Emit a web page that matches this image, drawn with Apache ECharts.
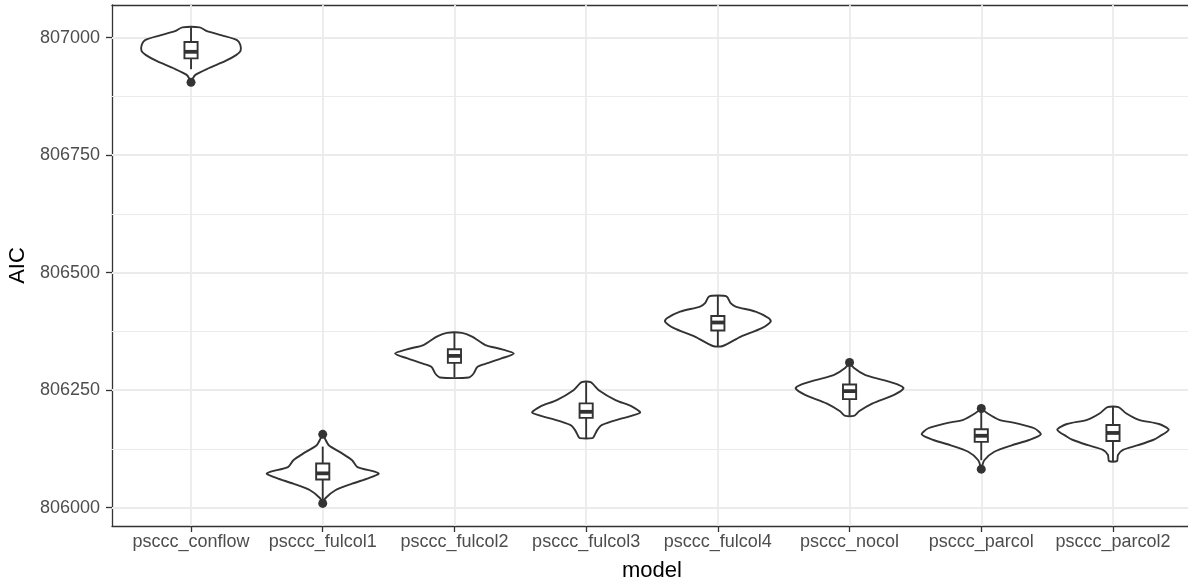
<!DOCTYPE html>
<html>
<head>
<meta charset="utf-8">
<script src="https://cdn.jsdelivr.net/npm/echarts@6/dist/echarts.min.js"></script>
<style>
  html, body { margin: 0; padding: 0; background: #fff; }
  #chart { width: 1188px; height: 584px; }
</style>
</head>
<body>
<div id="chart"></div>
<script>
// ---- data ----
const categories = ['psccc_conflow', 'psccc_fulcol1', 'psccc_fulcol2', 'psccc_fulcol3',
                    'psccc_fulcol4', 'psccc_nocol', 'psccc_parcol', 'psccc_parcol2'];

// violin outlines: [AIC, half-width in category units], top to bottom
const vConflow = [[807022, 0.066], [807014, 0.121], [807005, 0.235], [806995, 0.349], [806985, 0.374],
                  [806972, 0.376], [806963, 0.342], [806950, 0.258], [806935, 0.134], [806921, 0.033],
                  [806912, 0.011], [806905, 0]];
const vFulcol1 = [[806156, 0], [806148, 0.015], [806133, 0.046], [806116, 0.144], [806101, 0.223],
                  [806087, 0.261], [806076, 0.400], [806072, 0.425], [806063, 0.349], [806051, 0.223],
                  [806037, 0.096], [806020, 0.020], [806009, 0]];
const vFulcol2 = [[806372, 0.057], [806364, 0.134], [806346, 0.235], [806337, 0.362], [806328, 0.451],
                  [806318, 0.362], [806306, 0.235], [806299, 0.172], [806286, 0.147], [806277, 0.109]];
const vFulcol3 = [[806267, 0.034], [806250, 0.096], [806229, 0.223], [806215, 0.349], [806202, 0.410],
                  [806190, 0.273], [806176, 0.121], [806165, 0.084], [806151, 0.058], [806148, 0.049]];
const vFulcol4 = [[806451, 0.046], [806448, 0.072], [806435, 0.097], [806428, 0.135], [806417, 0.287],
                  [806403, 0.387], [806396, 0.402], [806382, 0.334], [806364, 0.175], [806344, 0.038]];
const vNocol   = [[806309, 0], [806297, 0.034], [806282, 0.121], [806272, 0.251], [806261, 0.376],
                  [806254, 0.410], [806240, 0.338], [806222, 0.175], [806205, 0.072], [806196, 0.038]];
const vParcol  = [[806211, 0], [806201, 0.046], [806187, 0.137], [806180, 0.262], [806169, 0.402],
                  [806156, 0.452], [806144, 0.364], [806133, 0.235], [806119, 0.099], [806101, 0.023],
                  [806082, 0]];
const vParcol2 = [[806214, 0.042], [806201, 0.099], [806187, 0.197], [806178, 0.349], [806166, 0.423],
                  [806151, 0.349], [806144, 0.304], [806133, 0.190], [806123, 0.076], [806112, 0.038],
                  [806099, 0.030]];
const violins = [vConflow, vFulcol1, vFulcol2, vFulcol3, vFulcol4, vNocol, vParcol, vParcol2];

// box plot statistics
const whiskerLow  = [806933, 806015, 806277, 806148, 806344, 806196, 806101, 806099];
const q1          = [806956, 806060, 806308, 806191, 806377, 806231, 806140, 806142];
const median      = [806970, 806073, 806323, 806204, 806394, 806248, 806153, 806159];
const q3          = [806991, 806094, 806337, 806222, 806408, 806262, 806167, 806176];
const whiskerHigh = [807022, 806130, 806372, 806267, 806451, 806300, 806205, 806214];
const outliers    = [[0, 806905], [1, 806156], [1, 806009], [5, 806309], [6, 806211], [6, 806082]];

// axis ticks
const yTicks      = [806000, 806250, 806500, 806750, 807000];
const yMinorTicks = [806125, 806375, 806625, 806875];
const yRange      = [805961, 807069.6];
const xRange      = [-0.6, 7.6];

// ---- chart ----
const INK = '#333333';
const GRID = '#EBEBEB';
const FONT = 'Liberation Sans, Arial, Helvetica, sans-serif';

const chart = echarts.init(document.getElementById('chart'), null, { renderer: 'canvas' });

const markData = []
  .concat(yMinorTicks.map(v => ({ yAxis: v, lineStyle: { color: GRID, width: 1, type: 'solid' } })))
  .concat(yTicks.map(v => ({ yAxis: v, lineStyle: { color: GRID, width: 1.8, type: 'solid' } })))
  .concat(categories.map((c, i) => ({ xAxis: i, lineStyle: { color: GRID, width: 1.8, type: 'solid' } })));

const borderLine = { show: true, onZero: false, lineStyle: { color: INK, width: 1.3 } };

const option = {
  animation: false,
  backgroundColor: '#ffffff',
  grid: {
    left: 112, top: 5, width: 1080, height: 521,
    containLabel: false,
    outerBoundsMode: 'none',
    show: false
  },
  xAxis: [{
    type: 'value',
    min: xRange[0], max: xRange[1],
    name: 'model',
    nameLocation: 'middle',
    nameGap: 34,
    nameTextStyle: { color: '#000', fontSize: 22, fontFamily: FONT },
    axisLine: borderLine,
    splitLine: { show: false },
    axisTick: { show: true, customValues: categories.map((c, i) => i), length: 6,
                lineStyle: { color: INK, width: 1.3 } },
    axisLabel: { show: true, customValues: categories.map((c, i) => i),
                 formatter: v => categories[Math.round(v)] || '',
                 color: '#4D4D4D', fontSize: 18, fontFamily: FONT, margin: 7 }
  }, {
    type: 'value', position: 'top',
    min: xRange[0], max: xRange[1],
    axisLine: borderLine,
    splitLine: { show: false },
    axisTick: { show: false },
    axisLabel: { show: false }
  }],
  yAxis: {
    type: 'value',
    min: yRange[0], max: yRange[1],
    name: 'AIC',
    nameLocation: 'middle',
    nameRotate: 90,
    nameGap: 78,
    nameTextStyle: { color: '#000', fontSize: 22, fontFamily: FONT },
    axisLine: borderLine,
    splitLine: { show: false },
    axisTick: { show: true, customValues: yTicks, length: 6,
                lineStyle: { color: INK, width: 1.3 } },
    axisLabel: { show: true, customValues: yTicks, formatter: v => String(v),
                 color: '#4D4D4D', fontSize: 18, fontFamily: FONT, margin: 12 }
  },
  series: [
    {
      type: 'scatter', data: [], z: 1, silent: true,
      markLine: { silent: true, z: 1, symbol: ['none', 'none'], label: { show: false },
                  animation: false, data: markData }
    },
    {
      type: 'custom', z: 10, silent: true,
      coordinateSystem: 'cartesian2d',
      data: categories.map((c, i) => [i, median[i]]),
      encode: { x: 0, y: 1 },
      renderItem: function (params, api) {
        const i = params.dataIndex;
        const pts = violins[i];
        const right = pts.map(p => api.coord([i + p[1], p[0]]));
        const left = pts.slice().reverse().map(p => api.coord([i - p[1], p[0]]));
        return {
          type: 'polygon',
          shape: { points: right.concat(left), smooth: 0.25 },
          style: { fill: '#ffffff', stroke: INK, lineWidth: 1.9, lineJoin: 'round' }
        };
      }
    },
    {
      type: 'custom', z: 11, silent: true,
      coordinateSystem: 'cartesian2d',
      data: categories.map((c, i) => [i, median[i]]),
      encode: { x: 0, y: 1 },
      renderItem: function (params, api) {
        const i = params.dataIndex;
        const hw = 0.05;
        const pLo = api.coord([i, whiskerLow[i]]);
        const pQ1 = api.coord([i, q1[i]]);
        const pMed = api.coord([i, median[i]]);
        const pQ3 = api.coord([i, q3[i]]);
        const pHi = api.coord([i, whiskerHigh[i]]);
        const xl = api.coord([i - hw, median[i]])[0];
        const xr = api.coord([i + hw, median[i]])[0];
        const ls = { stroke: INK, lineWidth: 1.9 };
        return {
          type: 'group',
          children: [
            { type: 'line', shape: { x1: pHi[0], y1: pHi[1], x2: pQ3[0], y2: pQ3[1] }, style: ls },
            { type: 'line', shape: { x1: pLo[0], y1: pLo[1], x2: pQ1[0], y2: pQ1[1] }, style: ls },
            { type: 'rect', shape: { x: xl, y: pQ3[1], width: xr - xl, height: pQ1[1] - pQ3[1] },
              style: { fill: '#ffffff', stroke: INK, lineWidth: 1.9 } },
            { type: 'line', shape: { x1: xl, y1: pMed[1], x2: xr, y2: pMed[1] },
              style: { stroke: INK, lineWidth: 3.8 } }
          ]
        };
      }
    },
    {
      type: 'scatter', z: 12, silent: true,
      data: outliers,
      symbol: 'circle', symbolSize: 9,
      itemStyle: { color: INK, opacity: 1 }
    }
  ]
};
chart.setOption(option);
</script>
</body>
</html>
